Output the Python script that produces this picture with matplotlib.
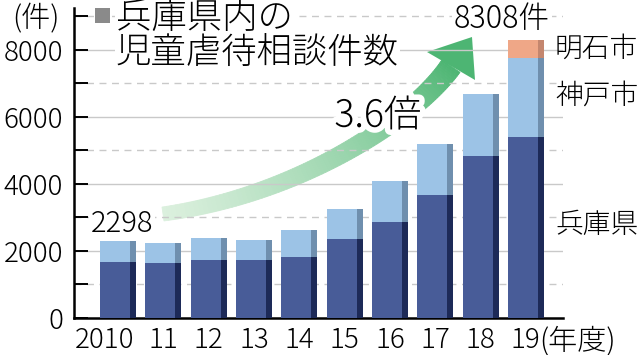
import matplotlib
matplotlib.use("Agg")
import matplotlib.pyplot as plt
import matplotlib.patheffects as pe
from matplotlib.patches import Polygon
from matplotlib.transforms import Affine2D, ScaledTranslation
import numpy as np

# 兵庫県内の児童虐待相談件数（年度別）
years = ['2010', '11', '12', '13', '14', '15', '16', '17', '18', '19']
hyogo = [1680, 1640, 1730, 1730, 1830, 2360, 2860, 3660, 4830, 5400]
kobe = [618, 600, 670, 590, 800, 900, 1230, 1540, 1860, 2350]
akashi = [0, 0, 0, 0, 0, 0, 0, 0, 0, 558]

JP = ['Noto Sans CJK JP', 'DejaVu Sans']
plt.rcParams['font.family'] = JP
plt.rcParams['font.weight'] = 'light'

fig = plt.figure(figsize=(6.4, 3.55), dpi=100)
ax = fig.add_axes([74 / 640, 1 - 318 / 355, (563 - 74) / 640, (318 - 8) / 355])
# ピクセル座標（左上原点）で飾りを置くための変換
px = Affine2D().scale(1 / 640, -1 / 355).translate(0, 1) + fig.transFigure

x = np.arange(len(years))
w_main, w_strip = 0.665, 0.13
left = x - (w_main + w_strip) / 2

def layer(bottom, vals, col, col_dark):
    ax.bar(left, vals, w_main, bottom=bottom, align='edge', color=col, zorder=3, linewidth=0)
    ax.bar(left + w_main, vals, w_strip, bottom=bottom, align='edge', color=col_dark, zorder=3, linewidth=0)

hyogo = np.array(hyogo)
kobe = np.array(kobe)
akashi = np.array(akashi)
layer(0, hyogo, '#485c98', '#1d2a58')
layer(hyogo, kobe, '#9cc3e6', '#6f8fae')
layer(hyogo + kobe, akashi, '#efa787', '#c4866e')

ax.set_xlim(-0.97, 9.82)
ax.set_ylim(0, 9250)

# 目盛りと補助線
for v in range(1000, 9001, 1000):
    if v % 2000 == 0:
        ax.axhline(v, color='#c9c9c9', lw=1.0, zorder=1)
    else:
        ax.axhline(v, color='#c9c9c9', lw=1.0, ls=(0, (5, 4)), zorder=1)

ax.set_yticks(range(0, 8001, 2000))
ax.set_yticks(range(1000, 9001, 2000), minor=True)
ax.tick_params(axis='y', which='both', direction='in', length=10, width=1.4,
               color='black', labelsize=20, pad=8)
ax.set_xticks(x)
ax.set_xticklabels(years)
ax.tick_params(axis='x', length=0, labelsize=20, pad=6)
xl = ax.get_xticklabels()[0]
xl.set_transform(xl.get_transform() + ScaledTranslation(-0.135, 0, fig.dpi_scale_trans))

for s in ['top', 'right']:
    ax.spines[s].set_visible(False)
ax.spines['left'].set_linewidth(1.8)
ax.spines['bottom'].set_linewidth(1.8)

# 緑の矢印（グラデーション）
P = np.array([[163, 214], [300, 195], [415, 118], [451, 66]], float)
t = np.linspace(0, 1, 90)
c = ((1 - t) ** 3)[:, None] * P[0] + (3 * (1 - t) ** 2 * t)[:, None] * P[1] \
    + (3 * (1 - t) * t ** 2)[:, None] * P[2] + (t ** 3)[:, None] * P[3]
d = np.gradient(c, axis=0)
nrm = np.stack([-d[:, 1], d[:, 0]], axis=1)
nrm /= np.linalg.norm(nrm, axis=1)[:, None]
hw = 7 + 4 * t
pale = np.array([0.86, 0.94, 0.87])
green = np.array([0.30, 0.71, 0.45])
for i in range(len(t) - 1):
    a = c[i] + nrm[i] * hw[i]
    b = c[i + 1] + nrm[i + 1] * hw[i + 1]
    cc = c[i + 1] - nrm[i + 1] * hw[i + 1]
    dd = c[i] - nrm[i] * hw[i]
    k = t[i] ** 1.1
    col = pale * (1 - k) + green * k
    ax.add_patch(Polygon([a, b, cc, dd], closed=True, transform=px, color=col,
                         lw=0.6, zorder=0.5, clip_on=False))
ax.add_patch(Polygon([[472, 37], [427, 52], [475, 80]], closed=True, transform=px,
                     color=green, lw=0, zorder=0.5, clip_on=False))

wb = dict(facecolor='white', edgecolor='none', pad=1)
white = [pe.withStroke(linewidth=8, foreground='white')]

fig.text(36, 19, '(件)', transform=px, fontsize=21, ha='center', va='center')
ax.add_patch(Polygon([[95, 8], [110, 8], [110, 23], [95, 23]], closed=True,
                     transform=px, color='#8a8a8a', lw=0, zorder=6, clip_on=False))
fig.text(116, 18, '兵庫県内の', transform=px, fontsize=25.5, ha='left', va='center', bbox=wb, zorder=6)
fig.text(116, 54, '児童虐待相談件数', transform=px, fontsize=25.5, ha='left', va='center', bbox=wb, zorder=6)

fig.text(122, 224, f'{hyogo[0] + kobe[0]}', transform=px, fontsize=21,
         ha='center', va='center', bbox=wb, zorder=6)
tot = hyogo[-1] + kobe[-1] + akashi[-1]
fig.text(502, 19, f'{tot}件', transform=px, fontsize=22, ha='center', va='center', bbox=wb, zorder=6)
fig.text(378, 116, '3.6倍', transform=px, fontsize=27, ha='center', va='center',
         path_effects=white, zorder=6)

fig.text(555, 49, '明石市', transform=px, fontsize=20, ha='left', va='center')
fig.text(555, 96, '神戸市', transform=px, fontsize=20, ha='left', va='center')
fig.text(555, 225, '兵庫県', transform=px, fontsize=20, ha='left', va='center')
fig.text(539, 341, '(年度)', transform=px, fontsize=21, ha='left', va='center')

fig.savefig('out.png', dpi=100)
